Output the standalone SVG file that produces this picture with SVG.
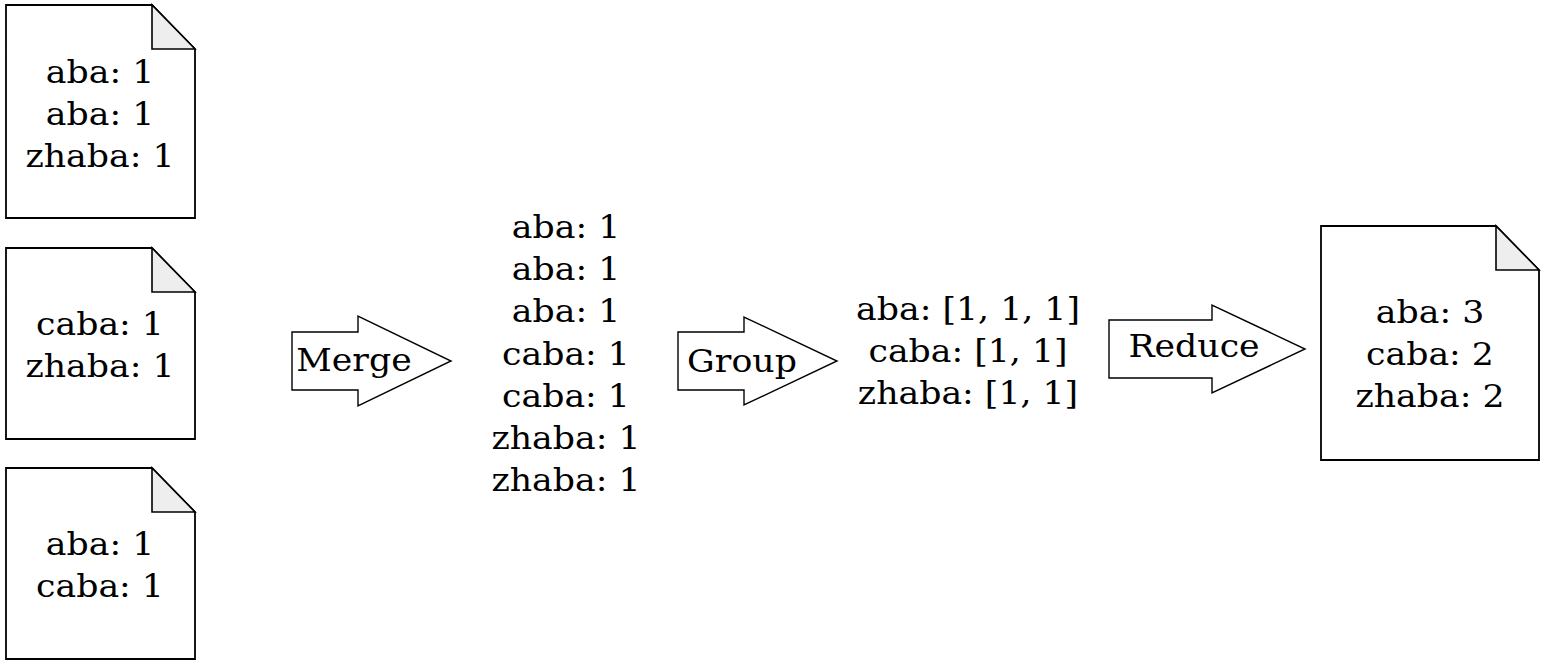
<svg xmlns="http://www.w3.org/2000/svg" width="1553" height="667" viewBox="0 0 1553 667">
<style>
.doc{fill:#fff;stroke:#000;stroke-width:1.8}
.fold{fill:#eeeeee;stroke:#000;stroke-width:1.6;stroke-linejoin:miter}
.arr{fill:#fff;stroke:#000;stroke-width:1.4}
text{font-family:"DejaVu Serif","Liberation Serif",serif;font-size:31px;fill:#000;text-anchor:middle}
</style>
<rect width="1553" height="667" fill="#fff"/>
<g id="doc1">
<path class="doc" d="M6,5 H152 L195,49 V218 H6 Z"/>
<path class="fold" d="M152,5 V49 H195 Z"/>
<g transform="translate(100,0) scale(1.12,1)">
<text x="0" y="83">aba: 1</text>
<text x="0" y="125">aba: 1</text>
<text x="0" y="167">zhaba: 1</text>
</g>
</g>
<g id="doc2">
<path class="doc" d="M6,248 H152 L195,292 V439 H6 Z"/>
<path class="fold" d="M152,248 V292 H195 Z"/>
<g transform="translate(100,0) scale(1.12,1)">
<text x="0" y="335">caba: 1</text>
<text x="0" y="377">zhaba: 1</text>
</g>
</g>
<g id="doc3">
<path class="doc" d="M6,468 H152 L195,512 V659 H6 Z"/>
<path class="fold" d="M152,468 V512 H195 Z"/>
<g transform="translate(100,0) scale(1.12,1)">
<text x="0" y="555">aba: 1</text>
<text x="0" y="597">caba: 1</text>
</g>
</g>
<g id="merged">
<g transform="translate(566,0) scale(1.12,1)">
<text x="0" y="238">aba: 1</text>
<text x="0" y="280">aba: 1</text>
<text x="0" y="322">aba: 1</text>
<text x="0" y="365">caba: 1</text>
<text x="0" y="407">caba: 1</text>
<text x="0" y="449">zhaba: 1</text>
<text x="0" y="491">zhaba: 1</text>
</g>
</g>
<g id="grouped">
<g transform="translate(968,0) scale(1.12,1)">
<text x="0" y="320">aba: [1, 1, 1]</text>
<text x="0" y="362">caba: [1, 1]</text>
<text x="0" y="404">zhaba: [1, 1]</text>
</g>
</g>
<g id="result">
<path class="doc" d="M1321,226 H1496 L1539,270 V460 H1321 Z"/>
<path class="fold" d="M1496,226 V270 H1539 Z"/>
<g transform="translate(1430,0) scale(1.12,1)">
<text x="0" y="323">aba: 3</text>
<text x="0" y="365">caba: 2</text>
<text x="0" y="407">zhaba: 2</text>
</g>
</g>
<g id="connectors">
<g id="merge-arrow">
<path class="arr" d="M292,332 H358 V316 L451,361 L358,406 V390 H292 Z"/>
<g transform="translate(354,0) scale(1.12,1)"><text x="0" y="371">Merge</text></g>
</g>
<g id="group-arrow">
<path class="arr" d="M678,332 H744 V317 L837,361 L744,405 V390 H678 Z"/>
<g transform="translate(742,0) scale(1.12,1)"><text x="0" y="372">Group</text></g>
</g>
<g id="reduce-arrow">
<path class="arr" d="M1109,320 H1212 V305 L1305,349 L1212,393 V378 H1109 Z"/>
<g transform="translate(1194,0) scale(1.12,1)"><text x="0" y="357">Reduce</text></g>
</g>
</g>
</svg>
